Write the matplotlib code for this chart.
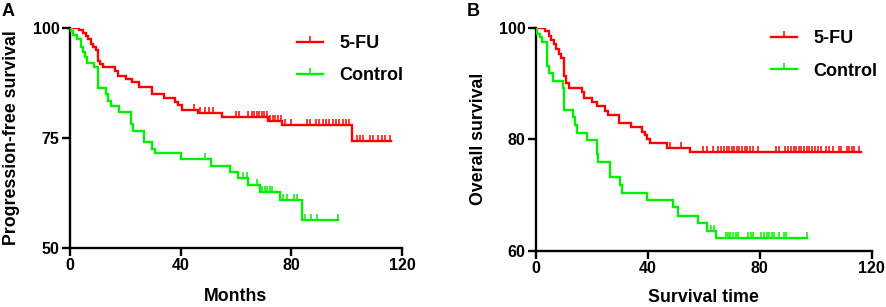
import numpy as np
import matplotlib
matplotlib.use("Agg")
import matplotlib.pyplot as plt
from matplotlib.lines import Line2D

plt.rcParams['font.family'] = ['Liberation Sans', 'DejaVu Sans']
plt.rcParams['font.weight'] = 'bold'

RED = '#FF0000'
GREEN = '#00F000'

# ---------------- Panel A: Progression-free survival ----------------
pfs_fu_t = [0, 3.4, 4.8, 5.8, 6.6, 7.6, 8.4, 9.3, 10.0, 10.7, 11.8, 16.4, 17.2, 20.2, 22.3,
            25.0, 29.7, 34.0, 37.8, 39.0, 40.5, 46.2, 54.8, 71.7, 76.5, 101.8]
pfs_fu_s = [100, 99.5, 98.9, 98.2, 97.4, 96.4, 95.7, 95.1, 92.6, 91.8, 91.2, 90.2, 89.0, 88.4, 87.7,
            86.6, 84.9, 84.1, 83.2, 82.5, 81.4, 80.6, 79.8, 78.9, 78.0, 74.3]
pfs_fu_end = 116.0
pfs_fu_cens = [44.8, 47.0, 48.8, 50.3, 51.8, 60.0, 61.2, 64.4, 65.7, 66.6, 67.5, 68.3, 69.3, 70.1,
               71.1, 72.3, 73.3, 74.2, 75.3, 76.1, 77.7, 79.8, 85.8, 86.7, 88.9, 90.1, 91.3, 92.5,
               93.7, 94.9, 96.1, 97.3, 98.5, 99.7, 100.7, 103.6, 104.8, 105.8, 108.4, 109.4, 111.4,
               112.6, 113.8, 115.6]

pfs_ctl_t = [0, 0.5, 1.2, 2.5, 4.0, 4.8, 5.4, 6.0, 8.8, 10.0, 13.0, 13.9, 14.7, 17.8, 22.0, 22.9,
             26.9, 29.8, 30.7, 40.0, 50.8, 57.8, 60.8, 64.5, 68.7, 75.9, 83.7]
pfs_ctl_s = [100, 99.3, 98.5, 97.5, 95.6, 94.5, 93.3, 92.0, 91.2, 86.4, 85.1, 83.5, 82.2, 80.9, 78.2,
             76.7, 74.1, 72.6, 71.5, 70.2, 68.6, 67.3, 65.8, 64.3, 62.8, 60.9, 56.4]
pfs_ctl_end = 97.0
pfs_ctl_cens = [48.8, 62.6, 63.8, 67.7, 69.3, 70.5, 71.3, 72.3, 72.9, 77.1, 78.3, 81.0, 81.9, 84.9,
                87.0, 89.2, 97.0]

# ---------------- Panel B: Overall survival ----------------
os_fu_t = [0, 3.3, 4.8, 5.5, 6.3, 7.1, 8.1, 9.0, 9.9, 10.7, 11.7, 16.4, 17.0, 20.0, 21.8, 24.8,
           25.7, 29.8, 34.0, 37.9, 38.8, 39.6, 40.8, 46.8, 55.0]
os_fu_s = [100, 99.5, 98.6, 97.8, 97.1, 96.2, 95.3, 94.7, 91.4, 90.2, 89.3, 88.5, 87.4, 86.7, 86.0,
           85.1, 84.4, 83.0, 82.3, 81.3, 80.7, 80.1, 79.3, 78.5, 77.8]
os_fu_end = 116.0
os_fu_cens = [47.9, 51.8, 59.8, 61.0, 63.3, 65.1, 66.3, 67.1, 68.1, 69.0, 69.9, 70.8, 71.7, 72.6,
              73.6, 74.6, 75.5, 76.4, 77.4, 79.4, 85.7, 86.9, 88.9, 90.1, 91.3, 92.1, 93.1, 94.0,
              94.9, 95.7, 96.7, 97.6, 98.6, 99.6, 100.8, 101.7, 103.8, 104.8, 106.2, 108.3, 109.2,
              111.0, 111.9, 112.8, 113.6, 115.5]

os_ctl_t = [0, 0.5, 1.5, 2.0, 3.9, 4.8, 6.0, 9.5, 10.0, 13.1, 13.9, 14.8, 18.1, 21.7, 22.3, 26.4,
            30.0, 30.6, 39.8, 48.8, 50.8, 58.0, 61.0, 64.5]
os_ctl_s = [100, 99.0, 98.3, 97.4, 93.2, 91.9, 90.5, 89.2, 85.3, 84.1, 82.6, 81.2, 79.8, 77.4, 75.9,
            73.2, 71.8, 70.4, 69.1, 67.8, 66.3, 65.0, 63.6, 62.2]
os_ctl_end = 96.7
os_ctl_cens = [62.7, 63.7, 67.9, 68.7, 69.5, 70.5, 71.4, 72.3, 75.8, 76.7, 77.6, 80.6, 81.4, 82.4,
               83.3, 84.2, 85.0, 86.9, 88.6, 89.5, 96.7]

legend_labels = ['5-FU', 'Control']

fig = plt.figure(figsize=(8.86, 3.07), dpi=100)


def km(ax, t, s, end, cens, color):
    tt = list(t) + [end]
    ss = list(s) + [s[-1]]
    ax.step(tt, ss, where='post', color=color, lw=1.7, solid_joinstyle='miter', zorder=3)
    idx = np.searchsorted(np.array(t), np.array(cens), side='right') - 1
    cv = np.array(s)[idx]
    ax.plot(cens, cv, linestyle='none', marker=2, markersize=4, mew=1.1, color=color, zorder=3)


def style(ax, yticks, ylim):
    ax.set_xlim(0, 120)
    ax.set_ylim(*ylim)
    ax.set_xticks([0, 40, 80, 120])
    ax.set_yticks(yticks)
    for sp in ['top', 'right']:
        ax.spines[sp].set_visible(False)
    for sp in ['left', 'bottom']:
        ax.spines[sp].set_linewidth(1.7)
    ax.tick_params(width=1.7, length=5.5, labelsize=11.5, pad=2)
    for lab in ax.get_xticklabels() + ax.get_yticklabels():
        lab.set_fontweight('bold')


def legend(ax, anchor):
    handles = [Line2D([0], [0], color=RED, lw=1.7, marker=2, markersize=4, mew=1.1),
               Line2D([0], [0], color=GREEN, lw=1.7, marker=2, markersize=4, mew=1.1)]
    ax.legend(handles, legend_labels, loc='upper left', bbox_to_anchor=anchor, frameon=False,
              prop={'size': 13, 'weight': 'bold'}, handlelength=1.45, handletextpad=0.9,
              labelspacing=0.85, borderaxespad=0, borderpad=0, numpoints=1)


# Panel A
axA = fig.add_axes([70 / 886, 1 - 248 / 307, 332 / 886, 220 / 307])
km(axA, pfs_fu_t, pfs_fu_s, pfs_fu_end, pfs_fu_cens, RED)
km(axA, pfs_ctl_t, pfs_ctl_s, pfs_ctl_end, pfs_ctl_cens, GREEN)
style(axA, [50, 75, 100], (50, 100))
axA.set_xlabel('Months', fontsize=12.8, fontweight='bold')
axA.set_ylabel('Progression-free survival', fontsize=12.8, fontweight='bold')
axA.xaxis.set_label_coords(0.5, -0.18)
axA.yaxis.set_label_coords(-0.152, 0.5)
legend(axA, (0.683, 0.968))

# Panel B
axB = fig.add_axes([536 / 886, 1 - 250.7 / 307, 335.7 / 886, 222.7 / 307])
km(axB, os_fu_t, os_fu_s, os_fu_end, os_fu_cens, RED)
km(axB, os_ctl_t, os_ctl_s, os_ctl_end, os_ctl_cens, GREEN)
style(axB, [60, 80, 100], (60, 100))
axB.set_xlabel('Survival time', fontsize=12.8, fontweight='bold')
axB.set_ylabel('Overall survival', fontsize=12.8, fontweight='bold')
axB.xaxis.set_label_coords(0.5, -0.17)
axB.yaxis.set_label_coords(-0.145, 0.5)
legend(axB, (0.700, 0.99))

fig.text(2 / 886, 1 - 3 / 307, 'A', fontsize=13, fontweight='bold', va='top', ha='left')
fig.text(467 / 886, 1 - 3 / 307, 'B', fontsize=13, fontweight='bold', va='top', ha='left')

fig.savefig('out.png', dpi=100)
